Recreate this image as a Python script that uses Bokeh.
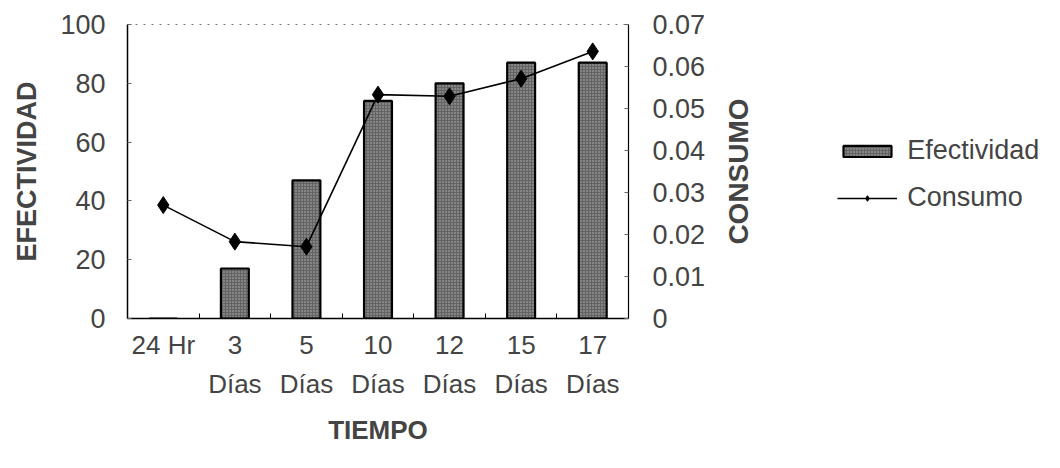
import math
from bokeh.plotting import figure
from bokeh.models import (Range1d, LinearAxis, FixedTicker, Label,
                          NumeralTickFormatter, Legend, LegendItem, ColumnDataSource)
from bokeh.embed import file_html
from bokeh.resources import INLINE

categorias = ["24 Hr", "3 Días", "5 Días", "10 Días", "12 Días", "15 Días", "17 Días"]
etiquetas_linea1 = ["24 Hr", "3", "5", "10", "12", "15", "17"]
etiquetas_linea2 = ["", "Días", "Días", "Días", "Días", "Días", "Días"]
efectividad = [0, 17, 47, 74, 80, 87, 87]
consumo = [0.027, 0.0183, 0.0171, 0.0533, 0.0529, 0.0571, 0.0636]
ticks_efectividad = [0, 20, 40, 60, 80, 100]
ticks_consumo = [0, 0.01, 0.02, 0.03, 0.04, 0.05, 0.06, 0.07]

FONT = "Liberation Sans"
FRAME_W = 501

n = len(categorias)
pos = list(range(n))
bordes = [i + 0.5 for i in range(n - 1)]
src = ColumnDataSource(dict(x=pos, ef=efectividad, co=consumo))

p = figure(frame_width=FRAME_W, frame_height=294,
           x_range=Range1d(-0.5, n - 0.5), y_range=Range1d(0, 100),
           output_backend="svg", toolbar_location=None, x_axis_location=None,
           min_border_left=127, min_border_right=232, min_border_top=24,
           min_border_bottom=150)
p.extra_y_ranges = {"c": Range1d(0, 0.07)}
p.background_fill_color = "white"
p.border_fill_color = "white"
p.outline_line_color = "#777777"
p.outline_line_dash = "2 6"
p.xgrid.grid_line_color = None
p.ygrid.grid_line_color = None

bars = p.vbar(x="x", top="ef", width=0.39, source=src,
              fill_color="#636363", line_color="black", line_width=2.2,
              hatch_pattern="dot", hatch_color="#b8b8b8", hatch_scale=3,
              hatch_weight=1)

line = p.line(x="x", y="co", source=src, y_range_name="c",
              line_color="black", line_width=1.6)
pts = p.scatter(x="x", y="co", source=src, y_range_name="c", marker="diamond",
                size=17, fill_color="black", line_color="black")

# x axis: first line of labels (with boundary ticks between categories)
xa = LinearAxis(ticker=FixedTicker(ticks=pos, minor_ticks=bordes))
xa.major_label_overrides = dict(zip(pos, etiquetas_linea1))
xa.major_label_text_font = FONT
xa.major_label_text_font_size = "26px"
xa.major_label_standoff = 5
xa.major_tick_line_color = None
xa.minor_tick_in = 5
xa.minor_tick_out = 0
xa.minor_tick_line_color = "black"
xa.axis_line_color = "black"
xa.axis_line_width = 1.5
p.add_layout(xa, "below")

# x axis: second line of labels and title
xb = LinearAxis(ticker=FixedTicker(ticks=pos))
xb.major_label_overrides = dict(zip(pos, etiquetas_linea2))
xb.major_label_text_font = FONT
xb.major_label_text_font_size = "26px"
xb.major_label_standoff = 0
xb.major_tick_line_color = None
xb.minor_tick_line_color = None
xb.axis_line_color = None
xb.axis_label = "TIEMPO"
xb.axis_label_text_font = FONT
xb.axis_label_text_font_style = "bold"
xb.axis_label_text_font_size = "26px"
xb.axis_label_standoff = 13
p.add_layout(xb, "below")

ya = p.yaxis[0]
ya.ticker = FixedTicker(ticks=ticks_efectividad)
ya.axis_label = "EFECTIVIDAD"
ya.axis_label_text_font = FONT
ya.axis_label_text_font_style = "bold"
ya.axis_label_text_font_size = "27px"
ya.axis_label_standoff = 15
ya.major_label_text_font = FONT
ya.major_label_text_font_size = "27px"
ya.major_label_standoff = 22
ya.major_tick_in = 4
ya.major_tick_out = 0
ya.major_tick_line_color = "#666666"
ya.minor_tick_line_color = None
ya.axis_line_color = "black"
ya.axis_line_width = 1.5

ra = LinearAxis(y_range_name="c", ticker=FixedTicker(ticks=ticks_consumo),
                formatter=NumeralTickFormatter(format="0.[00]"))
# keep the title's space in the panel; the visible title is drawn as a Label below
ra.axis_label = "CONSUMO"
ra.axis_label_orientation = math.pi / 2
ra.axis_label_text_color = None
ra.axis_label_text_font = FONT
ra.axis_label_text_font_style = "bold"
ra.axis_label_text_font_size = "28px"
ra.axis_label_standoff = 30
ra.major_label_text_font = FONT
ra.major_label_text_font_size = "27px"
ra.major_label_standoff = 24
ra.major_tick_in = 4
ra.major_tick_out = 0
ra.major_tick_line_color = "#666666"
ra.minor_tick_line_color = None
ra.axis_line_color = "black"
ra.axis_line_width = 1.2
p.add_layout(ra, "right")

# right-axis title, reading bottom-to-top, centred on the plot height
units_per_px = (p.x_range.end - p.x_range.start) / FRAME_W
titulo_der = Label(x=p.x_range.end + 110 * units_per_px,
                   y=(p.y_range.start + p.y_range.end) / 2,
                   x_units="data", y_units="data", text="CONSUMO",
                   angle=math.pi / 2, text_align="center", text_baseline="middle",
                   text_font=FONT, text_font_style="bold", text_font_size="28px",
                   text_color="#444444")
p.add_layout(titulo_der, "right")

legend = Legend(items=[LegendItem(label="Efectividad", renderers=[bars]),
                       LegendItem(label="Consumo", renderers=[line, pts])],
                location=(-259, 105), orientation="vertical",
                label_text_font=FONT, label_text_font_size="27px",
                border_line_color=None, background_fill_alpha=0,
                glyph_width=60, glyph_height=14, spacing=16, padding=5,
                label_standoff=10, margin=0)
p.add_layout(legend, "right")

open("out.html", "w").write(file_html(p, INLINE))
